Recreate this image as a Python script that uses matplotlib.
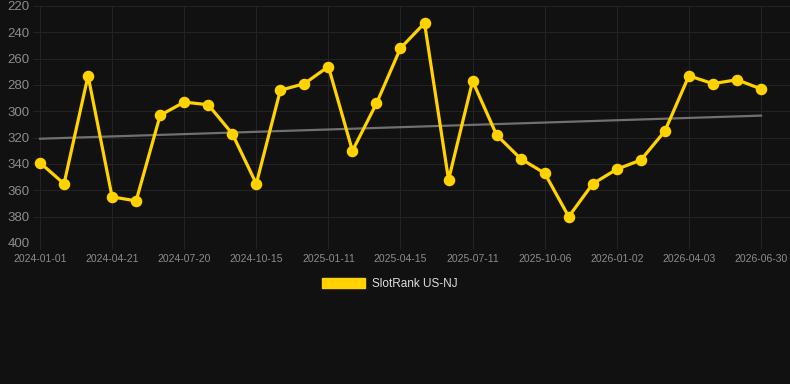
import numpy as np
import matplotlib
matplotlib.use("Agg")
import matplotlib.pyplot as plt
from matplotlib.patches import Patch

plt.rcParams['font.family'] = ['Liberation Sans', 'DejaVu Sans']

# rank values (lower = better), one point per period
ranks = [339, 355, 273, 365, 368, 303, 293, 295, 317, 355,
         284, 279, 266, 330, 294, 252, 233, 352, 277, 318,
         336, 347, 380, 355, 344, 337, 315, 273, 279, 276, 283]
tick_labels = ["2024-01-01", "2024-04-21", "2024-07-20", "2024-10-15",
               "2025-01-11", "2025-04-15", "2025-07-11", "2025-10-06",
               "2026-01-02", "2026-04-03", "2026-06-30"]
y_ticks = [220, 240, 260, 280, 300, 320, 340, 360, 380, 400]

BG = "#111111"
GOLD = "#FFD200"
GRID = "#232323"

x = np.arange(len(ranks))
# linear trend over the series
slope, icpt = np.polyfit(x, ranks, 1)

fig = plt.figure(figsize=(7.9, 3.84), dpi=100, facecolor=BG)
ax = fig.add_axes([33 / 790, 1 - 243 / 384, 1 - 33 / 790, 237 / 384])
ax.set_facecolor(BG)

ax.plot(x, icpt + slope * x, color="#707070", lw=1.6, zorder=2)
ax.plot(x, ranks, color=GOLD, lw=2.3, marker="o", ms=7.3, zorder=3)

ax.set_xlim(-7 / 24.03, 30 + 29 / 24.03)
ax.set_ylim(400, 220)
ax.set_yticks(y_ticks)
ax.set_xticks(x[::3])
ax.set_xticklabels(tick_labels)

ax.grid(True, color=GRID, lw=0.8)
ax.set_axisbelow(True)
for s in ax.spines.values():
    s.set_visible(False)
ax.tick_params(axis="y", length=0, pad=2.5, labelsize=9.5, labelcolor="#8c8c8c")
ax.tick_params(axis="x", length=4, color=GRID, pad=4, labelsize=7.5, labelcolor="#8c8c8c")

fig.legend(handles=[Patch(facecolor=GOLD, edgecolor=GOLD)], labels=["SlotRank US-NJ"],
           loc="center", bbox_to_anchor=(390 / 790, 1 - 284 / 384), frameon=False,
           fontsize=8.5, labelcolor="#dddddd", handlelength=3.6, handleheight=0.9,
           handletextpad=0.6)

fig.savefig("out.png", dpi=100, facecolor=BG)
